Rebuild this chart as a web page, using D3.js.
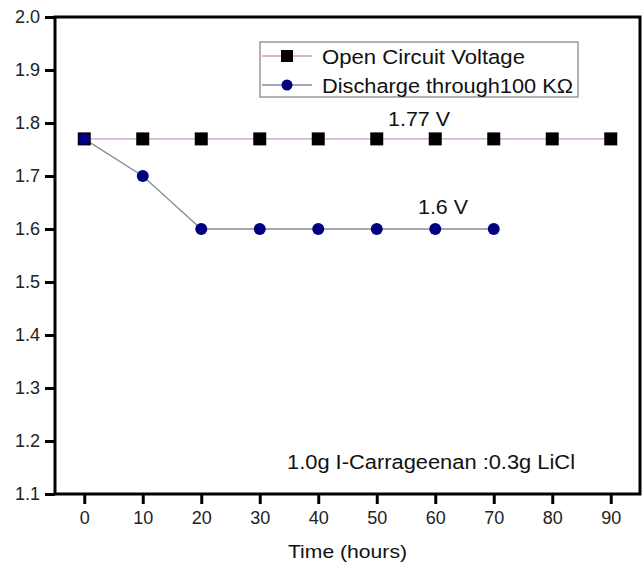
<!DOCTYPE html>
<html>
<head>
<meta charset="utf-8">
<script src="https://cdn.jsdelivr.net/npm/d3@7"></script>
<style>
  body { margin: 0; background: #fff; }
  svg { display: block; font-family: "Liberation Sans", Arial, sans-serif; }
</style>
</head>
<body>
<svg id="chart" width="643" height="566"></svg>
<script>
// Cell voltage over time
const hours = [0, 10, 20, 30, 40, 50, 60, 70, 80, 90];
const openCircuit = [1.77, 1.77, 1.77, 1.77, 1.77, 1.77, 1.77, 1.77, 1.77, 1.77];
const dischargeHours = [0, 10, 20, 30, 40, 50, 60, 70];
const discharge = [1.77, 1.70, 1.60, 1.60, 1.60, 1.60, 1.60, 1.60];
const yTicks = [1.1, 1.2, 1.3, 1.4, 1.5, 1.6, 1.7, 1.8, 1.9, 2.0];
const seriesNames = ["Open Circuit Voltage", "Discharge through100 K\u03A9"];

const svg = d3.select("#chart");
const plotLeft = 55, plotRight = 640, plotTop = 17, plotBottom = 494;

const x = d3.scaleLinear().domain([-5, 95]).range([plotLeft, plotRight]);
const y = d3.scaleLinear().domain([1.1, 2.0]).range([plotBottom, plotTop]);

// frame
svg.append("rect")
  .attr("x", plotLeft).attr("y", plotTop)
  .attr("width", plotRight - plotLeft).attr("height", plotBottom - plotTop)
  .attr("fill", "none").attr("stroke", "#000").attr("stroke-width", 3);

const xAxis = svg.append("g")
  .attr("transform", `translate(0,${plotBottom})`)
  .call(d3.axisBottom(x).tickValues(hours).tickSize(10).tickPadding(7).tickFormat(d3.format("d")));
const yAxis = svg.append("g")
  .attr("transform", `translate(${plotLeft},0)`)
  .call(d3.axisLeft(y).tickValues(yTicks).tickSize(10).tickPadding(5).tickFormat(d3.format(".1f")));

[xAxis, yAxis].forEach(g => {
  g.select(".domain").remove();
  g.selectAll(".tick line").attr("stroke", "#000").attr("stroke-width", 3);
  g.selectAll(".tick text").attr("fill", "#222").style("font-size", "18px")
    .style("font-family", "'Liberation Sans', Arial, sans-serif");
});

svg.append("text")
  .attr("x", 288).attr("y", 558)
  .attr("textLength", 119).attr("lengthAdjust", "spacingAndGlyphs")
  .style("font-size", "18.5px").attr("fill", "#111")
  .text("Time (hours)");

// series
const ocData = hours.map((h, i) => [h, openCircuit[i]]);
const dcData = dischargeHours.map((h, i) => [h, discharge[i]]);
const line = d3.line().x(d => x(d[0])).y(d => y(d[1]));

svg.append("path").datum(ocData).attr("d", line)
  .attr("fill", "none").attr("stroke", "#cc99cc").attr("stroke-width", 1.3);
svg.append("path").datum(dcData).attr("d", line)
  .attr("fill", "none").attr("stroke", "#8a8a9a").attr("stroke-width", 1.3);

const sq = 13;
svg.selectAll("rect.oc").data(ocData).enter().append("rect")
  .attr("class", "oc")
  .attr("x", d => x(d[0]) - sq / 2).attr("y", d => y(d[1]) - sq / 2)
  .attr("width", sq).attr("height", sq).attr("fill", "#000");

svg.selectAll("circle.dc").data(dcData).enter().append("circle")
  .attr("class", "dc")
  .attr("cx", d => x(d[0])).attr("cy", d => y(d[1])).attr("r", 6)
  .attr("fill", "#000080");

// value labels
svg.append("text").attr("x", 388).attr("y", 126)
  .attr("textLength", 62).attr("lengthAdjust", "spacingAndGlyphs")
  .style("font-size", "21px").attr("fill", "#111").text("1.77 V");
svg.append("text").attr("x", 418).attr("y", 214)
  .attr("textLength", 50).attr("lengthAdjust", "spacingAndGlyphs")
  .style("font-size", "20px").attr("fill", "#111").text("1.6 V");

svg.append("text").attr("x", 287).attr("y", 469)
  .attr("textLength", 288).attr("lengthAdjust", "spacingAndGlyphs")
  .style("font-size", "19.5px").attr("fill", "#111")
  .text("1.0g I-Carrageenan :0.3g LiCl");

// legend
const lg = svg.append("g");
lg.append("rect").attr("x", 260).attr("y", 42).attr("width", 318).attr("height", 55)
  .attr("fill", "#fff").attr("stroke", "#999").attr("stroke-width", 1.5);
const rows = [56, 85];
lg.append("line").attr("x1", 262).attr("x2", 312).attr("y1", rows[0]).attr("y2", rows[0])
  .attr("stroke", "#cc99cc").attr("stroke-width", 1.3);
lg.append("rect").attr("x", 287 - 6).attr("y", rows[0] - 6).attr("width", 12).attr("height", 12).attr("fill", "#000");
lg.append("line").attr("x1", 262).attr("x2", 312).attr("y1", rows[1]).attr("y2", rows[1])
  .attr("stroke", "#8a8a9a").attr("stroke-width", 1.3);
lg.append("circle").attr("cx", 287).attr("cy", rows[1]).attr("r", 5.5).attr("fill", "#000080");
const legendWidths = [203, 251];
seriesNames.forEach((s, i) => {
  lg.append("text").attr("x", 322).attr("y", rows[i] + 8)
    .attr("textLength", legendWidths[i]).attr("lengthAdjust", "spacingAndGlyphs")
    .style("font-size", "20.5px").attr("fill", "#111").text(s);
});
</script>
</body>
</html>
